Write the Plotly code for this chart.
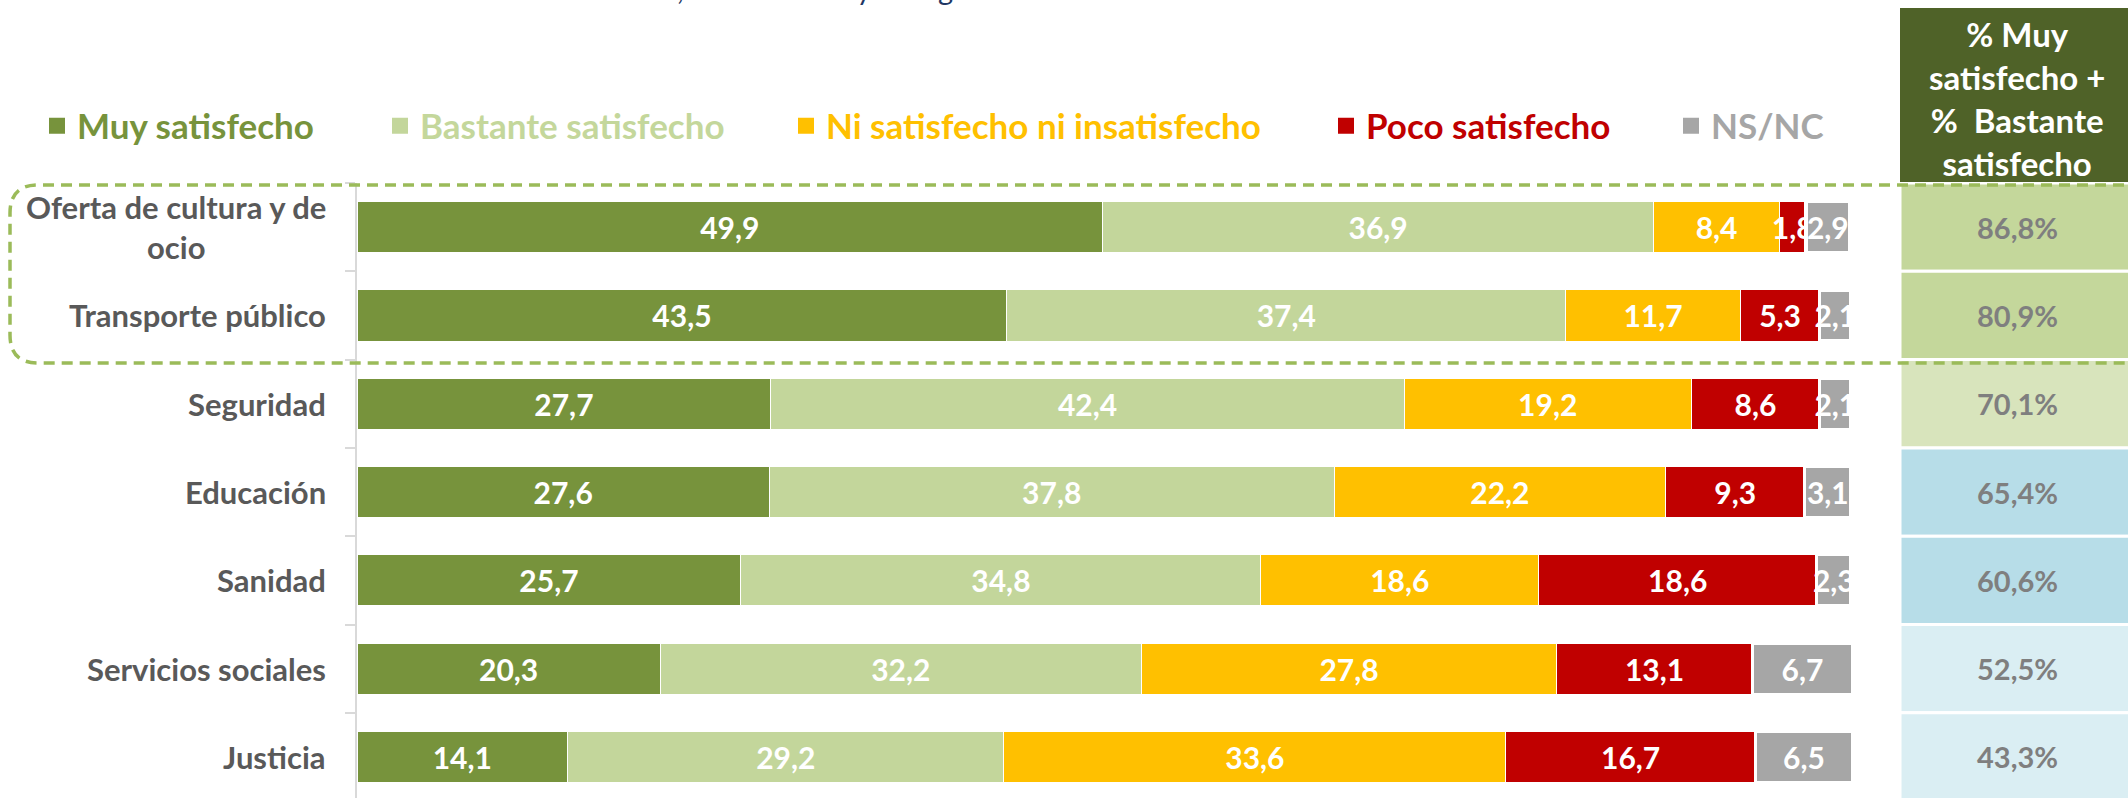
import plotly.graph_objects as go

# ---------------- data ----------------
categories = ["Oferta de cultura y de ocio", "Transporte público", "Seguridad",
              "Educación", "Sanidad", "Servicios sociales", "Justicia"]
category_labels = ["Oferta de cultura y de<br>ocio", "Transporte público", "Seguridad",
                   "Educación", "Sanidad", "Servicios sociales", "Justicia"]
series_names = ["Muy satisfecho", "Bastante satisfecho", "Ni satisfecho ni insatisfecho",
                "Poco satisfecho", "NS/NC"]
muy = [49.9, 43.5, 27.7, 27.6, 25.7, 20.3, 14.1]
bastante = [36.9, 37.4, 42.4, 37.8, 34.8, 32.2, 29.2]
ni = [8.4, 11.7, 19.2, 22.2, 18.6, 27.8, 33.6]
poco = [1.8, 5.3, 8.6, 9.3, 18.6, 13.1, 16.7]
nsnc = [2.9, 2.1, 2.1, 3.1, 2.3, 6.7, 6.5]
satisfechos = [86.8, 80.9, 70.1, 65.4, 60.6, 52.5, 43.3]
header_text = "% Muy<br>satisfecho +<br>%  Bastante<br>satisfecho"
title_text = "Sanidad, la Educación y la Seguridad"

# ---------------- styles ----------------
series_colors = ["#77933c", "#c3d69b", "#ffc000", "#c00000", "#a6a6a6"]
legend_text_colors = ["#77933c", "#c4d79b", "#ffc000", "#c00000", "#a6a6a6"]
edge_widths = [1, 1, 1, 1, 3.5]
cell_colors = ["#c4d79b", "#c4d79b", "#d8e4bc", "#b7dde8", "#b7dde8", "#daeef3", "#daeef3"]
FONT = "Lato"

W, H = 2128, 798
L, R, T, B = 357, 277, 183, 0
PW, PH = W - L - R, H - T - B
BAND_PX = 88.3


def px_x(p):
    return (p - L) / PW


def px_y(p):
    return 1 - (p - T) / PH


fig = go.Figure()
for name, vals, col, lw in zip(series_names, [muy, bastante, ni, poco, nsnc], series_colors, edge_widths):
    fig.add_trace(go.Bar(
        y=categories, x=vals, orientation="h", name=name,
        marker=dict(color=col, line=dict(color="white", width=lw)),
        texttemplate="%{x:.1f}", textposition="inside", insidetextanchor="middle",
        textangle=0, constraintext="none",
        textfont=dict(family=FONT, size=30, color="white", weight=700),
        showlegend=False, hoverinfo="skip",
    ))

# legend entries (one legend per entry so that spacing can follow the original)
legend_text_starts = [79, 422, 828, 1368, 1713]
legend_ids = ["legend", "legend2", "legend3", "legend4", "legend5"]
for name, col, lid in zip(series_names, series_colors, legend_ids):
    fig.add_trace(go.Scatter(
        x=[None], y=[None], mode="markers", name=name, legend=lid,
        marker=dict(symbol="square", size=18, color=col), showlegend=True,
    ))

layout_legends = {}
for lid, start, tcol in zip(legend_ids, legend_text_starts, legend_text_colors):
    layout_legends[lid] = dict(
        orientation="h", x=px_x(start - 42), xanchor="left", y=px_y(126), yanchor="middle",
        font=dict(family=FONT, size=35, color=tcol, weight=700),
        bgcolor="rgba(0,0,0,0)", borderwidth=0,
    )

annotations = []
for cat, lab in zip(categories, category_labels):
    annotations.append(dict(
        x=px_x(328), xref="paper", xanchor="right", y=cat, yref="y", yanchor="middle",
        text=lab, showarrow=False, align="center",
        font=dict(family=FONT, size=31, color="#595959", weight=700),
    ))

shapes = []
for i, (cat, v, cc) in enumerate(zip(categories, satisfechos, cell_colors)):
    shapes.append(dict(
        type="rect", xref="paper", yref="y", x0=px_x(1900), x1=px_x(2140),
        y0=i - 0.5, y1=i + 0.5, fillcolor=cc, line=dict(color="white", width=3), layer="below",
    ))
    annotations.append(dict(
        x=px_x(2017), xref="paper", xanchor="center", y=cat, yref="y", yanchor="middle",
        text=f"{v:.1f}%".replace(".", ","),
        showarrow=False, font=dict(family=FONT, size=29, color="#7f7f7f", weight=700),
    ))

# header cell
shapes.append(dict(type="rect", xref="paper", yref="paper", x0=px_x(1900), x1=px_x(2140),
                   y0=px_y(182), y1=px_y(8), fillcolor="#4f6228", line=dict(width=0)))
annotations.append(dict(x=px_x(2017), xref="paper", xanchor="center", y=px_y(98), yref="paper",
                        yanchor="middle", text=header_text, showarrow=False, align="center",
                        font=dict(family=FONT, size=33, color="white", weight=700)))

# dashed rounded frame around the two top rows
xl, xr = px_x(10), px_x(2160)
yt, yb = px_y(185), px_y(363)
rx, ry = 28 / PW, 28 / PH
path = (f"M {xr},{yt} L {xl + rx},{yt} Q {xl},{yt} {xl},{yt - ry} "
        f"L {xl},{yb + ry} Q {xl},{yb} {xl + rx},{yb} L {xr},{yb}")
shapes.append(dict(type="path", xref="paper", yref="paper", path=path,
                   line=dict(color="#9bbb59", width=3.5, dash="11px,7px")))

# cut-off title at the very top (only its lower edge is visible in the original)
annotations.append(dict(x=px_x(575), xref="paper", xanchor="left", y=px_y(8), yref="paper",
                        yanchor="bottom", text=title_text, showarrow=False,
                        font=dict(family=FONT, size=29, color="#1f3864")))

fig.update_layout(
    width=W, height=H, margin=dict(l=L, r=R, t=T, b=B, autoexpand=False),
    barmode="stack", bargap=0.42, separators=",.",
    paper_bgcolor="white", plot_bgcolor="white",
    xaxis=dict(range=[0, 100], visible=False, fixedrange=True),
    yaxis=dict(type="category", categoryorder="array", categoryarray=categories,
               range=[-0.5 + PH / BAND_PX, -0.5], showticklabels=False,
               showline=True, linecolor="#d9d9d9", linewidth=2,
               ticks="outside", tickson="boundaries", ticklen=10, tickcolor="#d9d9d9", tickwidth=2,
               showgrid=False, zeroline=False, fixedrange=True),
    annotations=annotations, shapes=shapes,
    **layout_legends,
)

fig.write_html("out.html", config={"displayModeBar": False},
               post_script="document.body.style.margin='0';document.body.style.overflow='hidden';")
